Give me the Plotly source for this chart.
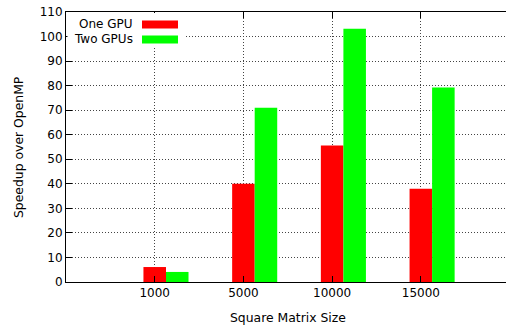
import plotly.graph_objects as go

categories = ["1000", "5000", "10000", "15000"]
series_names = ["One GPU", "Two GPUs"]
one_gpu = [6.1, 40, 55.6, 38]
two_gpus = [4.1, 71, 103.2, 79.2]
y_ticks = list(range(0, 111, 10))

colors = ["#ff0000", "#00ff00"]
FONT = "DejaVu Sans"
FS = 12
bw = 0.254

L, T, B = 66, 11.5, 42.5
W, H = 506, 325
PW, PH = W - L, H - T - B

def px(x):
    return (x - L) / PW

def py(y):
    return 1 - (y - T) / PH

fig = go.Figure()
fig.add_trace(go.Bar(x=categories, y=one_gpu, name=series_names[0],
                     marker=dict(color=colors[0], line=dict(width=0)),
                     width=bw, offset=-bw / 2))
fig.add_trace(go.Bar(x=categories, y=two_gpus, name=series_names[1],
                     marker=dict(color=colors[1], line=dict(width=0)),
                     width=bw, offset=bw / 2))

# gnuplot-style key: text, then colour swatch, over a white box
fig.add_shape(type="rect", xref="paper", yref="paper",
              x0=px(67.5), x1=px(184), y0=py(46), y1=py(12.5),
              fillcolor="white", line=dict(width=0), layer="above")
for i, (name, c) in enumerate(zip(series_names, colors)):
    yc = 24 + i * 15
    fig.add_annotation(xref="paper", yref="paper",
                       x=px(135), y=py(yc),
                       text=name, showarrow=False, xanchor="right", yanchor="middle",
                       font=dict(family=FONT, size=FS, color="black"))
    fig.add_shape(type="rect", xref="paper", yref="paper",
                  x0=px(142), x1=px(178), y0=py(yc + 4), y1=py(yc - 4),
                  fillcolor=c, line=dict(width=0), layer="above")

# axis titles
fig.add_annotation(xref="paper", yref="paper", x=px(288), y=py(318),
                   text="Square Matrix Size", showarrow=False,
                   xanchor="center", yanchor="middle",
                   font=dict(family=FONT, size=12.4, color="black"))
fig.add_annotation(xref="paper", yref="paper", x=px(18), y=py(147),
                   text="Speedup over OpenMP", showarrow=False, textangle=-90,
                   xanchor="center", yanchor="middle",
                   font=dict(family=FONT, size=12.4, color="black"))

fig.update_layout(
    width=W, height=H,
    margin=dict(l=L, r=0, t=T, b=B, autoexpand=False),
    paper_bgcolor="white", plot_bgcolor="white",
    showlegend=False, barmode="overlay",
    font=dict(family=FONT, size=FS, color="black"),
)
GRID = dict(showgrid=True, gridcolor="#444", griddash="1px,2px", gridwidth=1)
fig.update_xaxes(
    range=[-1, 3.96], showline=True, linecolor="black", linewidth=1,
    mirror="allticks", ticks="inside", ticklen=6, tickcolor="black",
    tickfont=dict(size=FS), zeroline=False, automargin=False, **GRID,
)
fig.update_yaxes(
    range=[0, 110], tickvals=y_ticks, showline=True, linecolor="black", linewidth=1,
    mirror=False, ticks="inside", ticklen=6, tickcolor="black",
    tickfont=dict(size=FS), zeroline=False, automargin=False, **GRID,
)

fig.write_html("out.html", config={"displayModeBar": False},
               post_script="document.body.style.margin='0';document.body.style.overflow='hidden';")
